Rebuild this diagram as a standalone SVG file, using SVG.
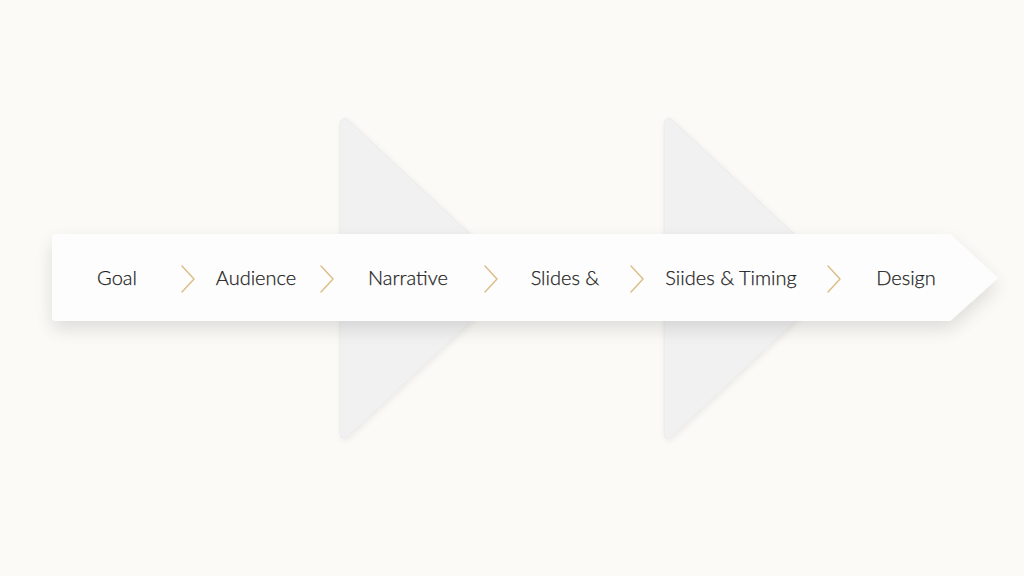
<svg xmlns="http://www.w3.org/2000/svg" width="1024" height="576" viewBox="0 0 1024 576">
<defs>
<filter id="sh" x="-10%" y="-60%" width="120%" height="220%">
<feGaussianBlur in="SourceAlpha" stdDeviation="9"/>
<feOffset dy="8"/>
<feComponentTransfer><feFuncA type="linear" slope="0.12"/></feComponentTransfer>
<feMerge><feMergeNode/><feMergeNode in="SourceGraphic"/></feMerge>
</filter>
<filter id="sh2" x="-20%" y="-20%" width="140%" height="140%">
<feGaussianBlur in="SourceAlpha" stdDeviation="3"/>
<feOffset dx="1" dy="2"/>
<feComponentTransfer><feFuncA type="linear" slope="0.07"/></feComponentTransfer>
<feMerge><feMergeNode/><feMergeNode in="SourceGraphic"/></feMerge>
</filter>
</defs>
<style>
.tri{fill:#f1f1f2;stroke:#eaeaeb;stroke-width:1;stroke-linejoin:round}
.lbl{font-family:"Lato","Noto Sans",sans-serif;font-weight:300;font-size:20px;fill:#1f1f1f;stroke:#1f1f1f;stroke-width:0.25;text-anchor:middle}
.chev{fill:none;stroke:#dcbf88;stroke-width:1.5;stroke-linecap:round;stroke-linejoin:round}
</style>
<rect width="1024" height="576" fill="#fbfaf6"/>
<g id="triangle1" filter="url(#sh2)"><path class="tri" d="M346 118 Q340 118 340 126 L340 432 Q340 440 346 438 L515 280 Q518 278 515 276 Z"/></g>
<g id="triangle2" filter="url(#sh2)"><path class="tri" d="M670 118 Q664 118 664 126 L664 432 Q664 440 670 438 L839 280 Q842 278 839 276 Z"/></g>
<g id="band" filter="url(#sh)"><path d="M56 234 L950 234 L998 278 L950 321 L56 321 Q52 321 52 317 L52 238 Q52 234 56 234 Z" fill="#fdfdfd"/></g>
<g id="connectors">
<polyline class="chev" points="182,266 194,279 182,292"/>
<polyline class="chev" points="321,266 333,279 321,292"/>
<polyline class="chev" points="485,266 497,279 485,292"/>
<polyline class="chev" points="631,266 643,279 631,292"/>
<polyline class="chev" points="828,266 840,279 828,292"/>
</g>
<g id="n1"><text class="lbl" x="117" y="285">Goal</text></g>
<g id="n2"><text class="lbl" x="256" y="285">Audience</text></g>
<g id="n3"><text class="lbl" x="408" y="285">Narrative</text></g>
<g id="n4"><text class="lbl" x="565" y="285">Slides &amp;</text></g>
<g id="n5"><text class="lbl" x="731" y="285">Siides &amp; Timing</text></g>
<g id="n6"><text class="lbl" x="906" y="285">Design</text></g>
</svg>
